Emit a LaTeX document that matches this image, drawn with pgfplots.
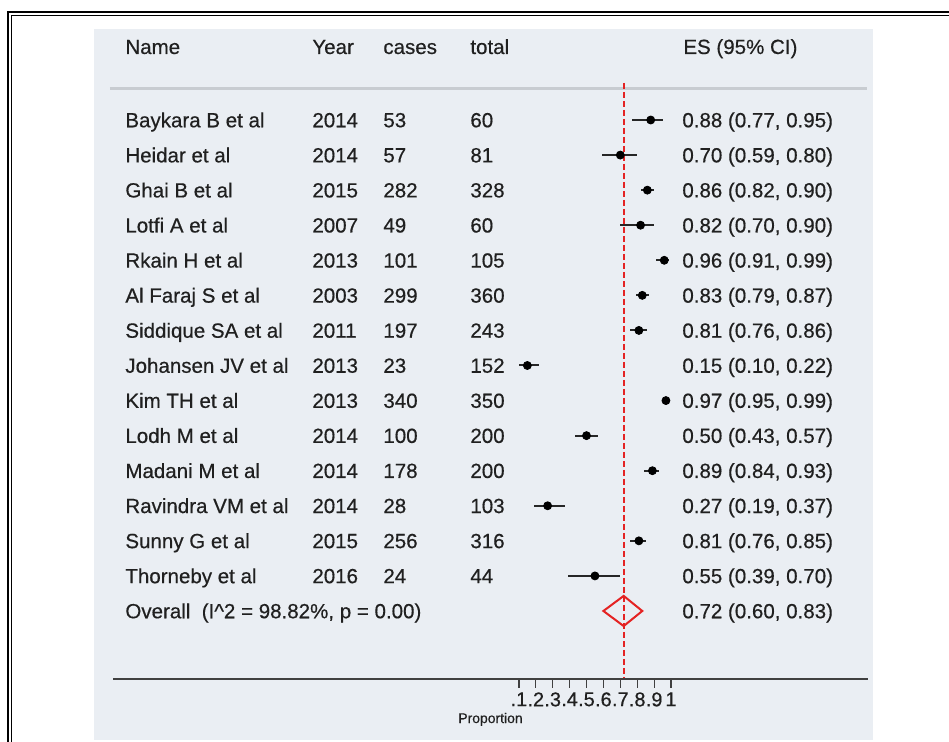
\documentclass[border=0pt]{standalone}
\usepackage{pgfplots}
\pgfplotsset{compat=1.18}
\usepackage{pgfplotstable}
\usepackage{fontspec}
\setmainfont{Liberation Sans}[FakeBold=0.5]

\definecolor{panel}{RGB}{234,238,243}
\definecolor{txt}{RGB}{32,32,32}
\definecolor{rulegrey}{RGB}{200,204,209}
\definecolor{refred}{RGB}{228,35,35}

% row, estimate, lower, upper
\pgfplotstableread{
r  p    lo   hi
1  0.88 0.77 0.95
2  0.70 0.59 0.80
3  0.86 0.82 0.90
4  0.82 0.70 0.90
5  0.96 0.91 0.99
6  0.83 0.79 0.87
7  0.81 0.76 0.86
8  0.15 0.10 0.22
9  0.97 0.95 0.99
10 0.50 0.43 0.57
11 0.89 0.84 0.93
12 0.27 0.19 0.37
13 0.81 0.76 0.85
14 0.55 0.39 0.70
}\studies

\begin{document}
\begin{tikzpicture}[font=\fontsize{10.3}{12}\selectfont]
% frame and panel (pixel units, origin top left)
\begin{scope}[x=0.5bp,y=-0.5bp,shift={(0,371bp)}]
  \fill[panel] (94,29) rectangle (873,740);
  \draw[line width=1bp] (8.5,742) -- (8.5,12.5) -- (949,12.5);
  \draw[line width=0.6bp] (11.8,742) -- (11.8,15.8) -- (949,15.8);
  \draw[rulegrey, line width=1.5bp] (110,89) -- (867,89);
\end{scope}

\begin{axis}[
    at={(0,0)}, anchor=south west,
    width=474.5bp, height=371bp, scale only axis,
    xmin=-2.9704, xmax=2.6450,
    ymin=-2.4217, ymax=18.736, y dir=reverse,
    axis lines=none, clip=false,
  ]
  \addplot[refred, line width=1.1bp, dash pattern=on 3bp off 1.5bp]
    coordinates {(0.72,-0.06) (0.72,16.94)};
  \addplot[only marks, mark=*, mark size=2bp, color=black,
    error bars/.cd, x dir=both, x explicit, error mark=none,
    error bar style={line width=1bp, color=black!85}]
    table[x=p, y=r, x error minus expr=\thisrow{p}-\thisrow{lo},
          x error plus expr=\thisrow{hi}-\thisrow{p}] {\studies};
  % overall
  \addplot[refred, line width=1bp, line join=miter]
    coordinates {(0.60,15) (0.72,14.57) (0.83,15) (0.72,15.43) (0.60,15) (0.72,14.57)};
\end{axis}

% text columns
\begin{scope}[x=0.5bp,y=-0.5bp,shift={(0,371bp)}, every node/.style={anchor=base west, inner sep=0pt, text=txt}]
  \node at (125,54) {Name};
  \node at (312,54) {Year};
  \node at (383,54) {cases};
  \node at (470,54) {total};
  \node at (683,54) {ES (95\% CI)};
  \foreach \nm/\yr/\cs/\tot/\es [count=\i] in {
      Baykara B et al/2014/53/60/0.88 (0.77{,} 0.95),
      Heidar et al/2014/57/81/0.70 (0.59{,} 0.80),
      Ghai B et al/2015/282/328/0.86 (0.82{,} 0.90),
      Lotfi A et al/2007/49/60/0.82 (0.70{,} 0.90),
      Rkain H et al/2013/101/105/0.96 (0.91{,} 0.99),
      Al Faraj S et al/2003/299/360/0.83 (0.79{,} 0.87),
      Siddique SA et al/2011/197/243/0.81 (0.76{,} 0.86),
      Johansen JV et al/2013/23/152/0.15 (0.10{,} 0.22),
      Kim TH et al/2013/340/350/0.97 (0.95{,} 0.99),
      Lodh M et al/2014/100/200/0.50 (0.43{,} 0.57),
      Madani M et al/2014/178/200/0.89 (0.84{,} 0.93),
      Ravindra VM et al/2014/28/103/0.27 (0.19{,} 0.37),
      Sunny G et al/2015/256/316/0.81 (0.76{,} 0.85),
      Thorneby et al/2016/24/44/0.55 (0.39{,} 0.70)} {
    \pgfmathsetmacro\yy{120+35.07*(\i-1)+7.3}
    \node at (125,\yy) {\nm};
    \node at (312,\yy) {\yr};
    \node at (383,\yy) {\cs};
    \node at (470,\yy) {\tot};
    \node at (682,\yy) {\es};
  }
  \pgfmathsetmacro\yy{120+35.07*14+7.3}
  \node at (125,\yy) {Overall\ \ (I\textasciicircum 2 = 98.82\%, p = 0.00)};
  \node at (682,\yy) {0.72 (0.60, 0.83)};
\end{scope}

% bottom scale
\begin{axis}[
    at={(56.5bp,31.5bp)}, anchor=south west,
    width=377.5bp, height=20bp, scale only axis,
    xmin=-2.3018, xmax=2.1657, ymin=0, ymax=1,
    axis x line=bottom, axis y line=none,
    x axis line style={-, line width=1bp, color=black!75},
    xtick={0.1,0.2,0.3,0.4,0.5,0.6,0.7,0.8,0.9,1},
    xticklabels={.1,.2,.3,.4,.5,.6,.7,.8,.9,1},
    tick align=outside, major tick length=4.5bp,
    xtick style={line width=0.6bp, color=black!75},
    xticklabel style={font=\fontsize{10}{12}\selectfont, text=txt, inner sep=0pt, yshift=-2bp},
    xlabel={Proportion},
    xlabel style={font=\fontsize{7}{8}\selectfont, text=txt, inner sep=0pt, yshift=-3bp},
  ]
  \addplot[draw=none] coordinates {(0,0)};
\end{axis}

\pgfresetboundingbox
\path (0,0) rectangle (474.5bp,371bp);
\end{tikzpicture}
\end{document}
